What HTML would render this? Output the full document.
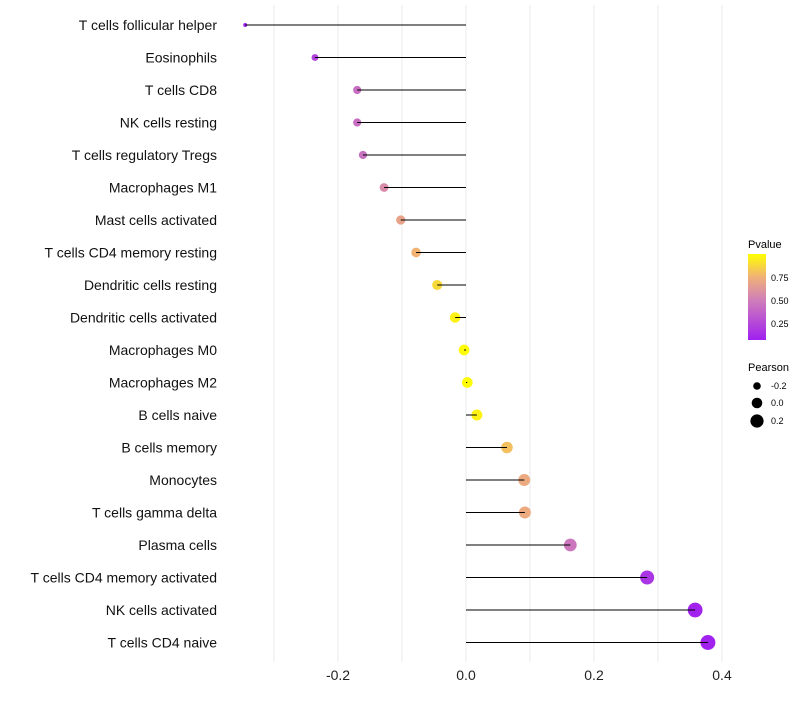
<!DOCTYPE html>
<html><head><meta charset="utf-8"><style>
body{margin:0;background:#fff;font-family:"Liberation Sans",sans-serif}
</style></head><body>
<svg id="chart" width="800" height="700" xmlns="http://www.w3.org/2000/svg" font-family="Liberation Sans, sans-serif">
<defs><linearGradient id="pg" x1="0" y1="1" x2="0" y2="0">
<stop offset="0" stop-color="#a020f0"/><stop offset="0.47" stop-color="#d080b8"/><stop offset="0.73" stop-color="#f0b078"/><stop offset="1" stop-color="#ffff00"/></linearGradient></defs>
<g id="grid"></g><g id="dots"></g><g id="stems"></g><g id="labels"></g>
<g>
<text x="748" y="248" font-size="11">Pvalue</text>
<rect x="748" y="254" width="18" height="86" fill="url(#pg)"/>
<text x="771" y="281" font-size="9">0.75</text>
<text x="771" y="304" font-size="9">0.50</text>
<text x="771" y="327" font-size="9">0.25</text>
<text x="748" y="371" font-size="11">Pearson</text>
<circle cx="757" cy="386" r="3.8" fill="#000"/>
<circle cx="757" cy="403" r="5.3" fill="#000"/>
<circle cx="757" cy="421" r="6.6" fill="#000"/>
<text x="771" y="389" font-size="9">-0.2</text>
<text x="771" y="406" font-size="9">0.0</text>
<text x="771" y="424" font-size="9">0.2</text>
</g>
</svg>
<script>
const categories=["T cells follicular helper","Eosinophils","T cells CD8","NK cells resting","T cells regulatory  Tregs","Macrophages M1","Mast cells activated","T cells CD4 memory resting","Dendritic cells resting","Dendritic cells activated","Macrophages M0","Macrophages M2","B cells naive","B cells memory","Monocytes","T cells gamma delta","Plasma cells","T cells CD4 memory activated","NK cells activated","T cells CD4 naive"];
const pearson=[-0.345,-0.236,-0.170,-0.170,-0.161,-0.128,-0.102,-0.078,-0.045,-0.017,-0.003,0.002,0.017,0.064,0.091,0.092,0.163,0.283,0.358,0.378];
const pvalue=[0.07,0.22,0.42,0.42,0.44,0.56,0.68,0.76,0.88,0.96,0.99,0.99,0.96,0.8,0.72,0.72,0.46,0.16,0.08,0.07];
const xTicks=[-0.2,0.0,0.2,0.4];
const xGrid=[-0.3,-0.2,-0.1,0,0.1,0.2,0.3,0.4];
const NS="http://www.w3.org/2000/svg";
const x=v=>466+v*640;
const y=i=>25+i*32.5;
const r=p=>Math.sqrt(Math.max(3,28.8+72*p));
function col(p){
 const st=[[0.065,[160,32,240]],[0.5,[208,128,184]],[0.75,[240,176,120]],[1,[255,255,0]]];
 p=Math.max(0.065,Math.min(1,p));
 for(let k=0;k<st.length-1;k++){const[a,ca]=st[k],[b,cb]=st[k+1];
  if(p<=b){const t=(p-a)/(b-a);return"rgb("+ca.map((c,j)=>Math.round(c+(cb[j]-c)*t)).join(",")+")";}}
 return"rgb(255,255,0)";
}
function mk(tag,attrs,parent){const e=document.createElementNS(NS,tag);for(const k in attrs)e.setAttribute(k,attrs[k]);document.getElementById(parent).appendChild(e);return e;}
xGrid.forEach(v=>{const l=mk("line",{x1:x(v),x2:x(v),y1:5,y2:662,stroke:"#ebebeb","stroke-width":1},"grid");

});
xTicks.forEach(v=>{const t=mk("text",{x:x(v),y:680,"font-size":14,"text-anchor":"middle",fill:"#222"},"labels");t.textContent=v.toFixed(1);

});
categories.forEach((c,i)=>{
 const t=mk("text",{x:217,y:y(i)+5,"font-size":14,"text-anchor":"end",fill:"#111"},"labels");t.textContent=c;
 
 
 const d=mk("circle",{cx:x(pearson[i]),cy:y(i),r:r(pearson[i]),fill:col(pvalue[i])},"dots");
 
 
 const l=mk("line",{x1:x(0),x2:x(pearson[i]),y1:y(i),y2:y(i),stroke:"#000","stroke-width":1},"stems");
 
 
});
</script>
</body></html>
